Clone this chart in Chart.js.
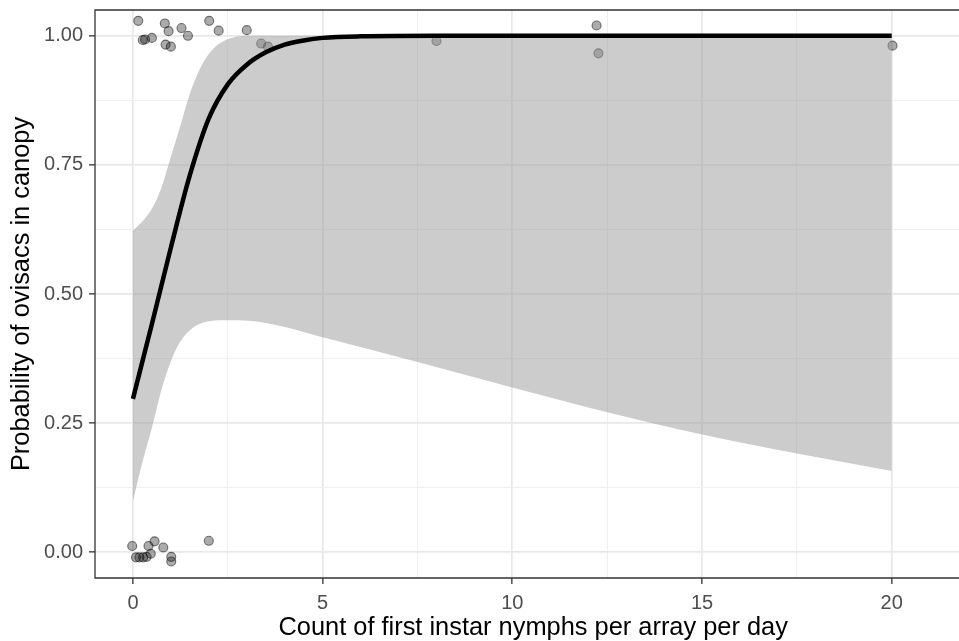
<!DOCTYPE html>
<html>
<head>
<meta charset="utf-8">
<script src="https://cdn.jsdelivr.net/npm/chart.js@4.4.1/dist/chart.umd.min.js"></script>
<style>
  html, body { margin: 0; padding: 0; background: #fff; overflow: hidden; }
  /* The reference panel runs past the right edge of the 959px frame, so the
     canvas is a little wider than the window and gets cropped the same way. */
  #wrap { position: relative; width: 977px; height: 641px; }
</style>
</head>
<body>
<div id="wrap"><canvas id="chart"></canvas></div>
<script>
// Fitted probability curve.
const fitX = [0, 0.5, 1.0, 1.5, 2.0, 2.5, 3.0, 3.5, 4.0, 4.5, 5, 6, 8, 20];
const fitY = [0.297, 0.442, 0.59, 0.73, 0.84, 0.906, 0.944, 0.968, 0.983, 0.991, 0.996, 0.999, 1.0, 1.0];

// Confidence band around the fit.
const bandX = [0, 0.15, 0.3, 0.5, 0.75, 1.0, 1.25, 1.5, 1.75, 2.0, 2.3, 2.6, 3.2, 4, 5, 7.5, 10, 12.5, 15, 17.5, 20];
const bandHi = [0.623, 0.633, 0.645, 0.665, 0.706, 0.766, 0.826, 0.888, 0.934, 0.965, 0.986, 0.996, 1.0, 1.0, 1.0, 1.0, 1.0, 1.0, 1.0, 1.0, 1.0];
const bandLo = [0.098, 0.145, 0.188, 0.241, 0.314, 0.37, 0.408, 0.43, 0.442, 0.447, 0.449, 0.449, 0.447, 0.436, 0.416, 0.3685, 0.319, 0.271, 0.228, 0.191, 0.157];

// Observations (jittered 0/1 outcomes).
const obsX = [0.14, 0.26, 0.32, 0.50, 0.84, 0.94, 0.86, 1.00, 1.28, 1.45, 2.01, 2.26, 3.00, 3.38, 3.56, 8.00, 12.22, 12.27, 20.02,
  -0.02, 0.08, 0.17, 0.27, 0.36, 0.41, 0.47, 0.57, 0.80, 1.01, 1.01, 2.00];
const obsY = [1.029, 0.992, 0.993, 0.996, 1.024, 1.009, 0.983, 0.979, 1.015, 1.000, 1.029, 1.010, 1.011, 0.985, 0.979, 0.990, 1.020, 0.966, 0.981,
  0.012, -0.010, -0.010, -0.010, -0.009, 0.012, -0.003, 0.021, 0.009, -0.009, -0.018, 0.022];

// Axis ticks: labelled (major) values and the full grid including minor lines.
const xTicks = [0, 5, 10, 15, 20];
const xGrid = [0, 2.5, 5, 7.5, 10, 12.5, 15, 17.5, 20];
const yTicks = [0, 0.25, 0.5, 0.75, 1];
const yLabels = ["0.00", "0.25", "0.50", "0.75", "1.00"];
const yGrid = [0, 0.125, 0.25, 0.375, 0.5, 0.625, 0.75, 0.875, 1];

const FONT = "'Liberation Sans', Arial, Helvetica, sans-serif";
Chart.defaults.font.family = FONT;

const pts = (xs, ys) => xs.map((x, i) => ({ x, y: ys[i] }));
const majorIndex = (list, v) => list.findIndex((t) => Math.abs(t - v) < 1e-9);

// theme_bw-ish grid: major lines heavier, minor lighter, tick marks only on majors.
function gridFor(major) {
  return {
    color: (c) => (majorIndex(major, c.tick.value) >= 0 ? "#e8e8e8" : "#efefef"),
    lineWidth: (c) => (majorIndex(major, c.tick.value) >= 0 ? 1.7 : 1),
    tickColor: (c) => (majorIndex(major, c.tick.value) >= 0 ? "#333333" : "rgba(0,0,0,0)"),
    tickWidth: 1.3,
    tickLength: 6,
  };
}

// Chart.js reserves room for half a label past each axis end; the panel here
// is pinned to fixed edges instead, so drop that padding.
const noEdgePadding = (s) => {
  s.paddingTop = 0; s.paddingBottom = 0; s.paddingLeft = 0; s.paddingRight = 0;
};

// Panel frame on top, left and bottom (the right side falls outside the window).
const panelFrame = {
  id: "panelFrame",
  afterDatasetsDraw(chart) {
    const { ctx, chartArea: a } = chart;
    ctx.save();
    ctx.strokeStyle = "#333333";
    ctx.lineWidth = 1.3;
    ctx.beginPath();
    ctx.moveTo(a.right, a.top);
    ctx.lineTo(a.left, a.top);
    ctx.lineTo(a.left, a.bottom);
    ctx.lineTo(a.right, a.bottom);
    ctx.stroke();
    ctx.restore();
  },
};

new Chart(document.getElementById("chart"), {
  type: "line",
  data: {
    datasets: [
      {
        label: "fit",
        data: pts(fitX, fitY),
        borderColor: "#000000",
        borderWidth: 4.5,
        pointRadius: 0,
        cubicInterpolationMode: "monotone",
        fill: false,
        order: 0,
      },
      {
        label: "upper",
        data: pts(bandX, bandHi),
        borderWidth: 0,
        borderColor: "rgba(0,0,0,0)",
        pointRadius: 0,
        cubicInterpolationMode: "monotone",
        backgroundColor: "rgba(153,153,153,0.5)",
        fill: "+1",
        order: 1,
      },
      {
        label: "lower",
        data: pts(bandX, bandLo),
        borderWidth: 0,
        borderColor: "rgba(0,0,0,0)",
        pointRadius: 0,
        cubicInterpolationMode: "monotone",
        fill: false,
        order: 1,
      },
      {
        type: "scatter",
        label: "obs",
        data: pts(obsX, obsY),
        pointRadius: 4.5,
        pointBackgroundColor: "rgba(0,0,0,0.33)",
        pointBorderColor: "rgba(0,0,0,0.5)",
        pointBorderWidth: 1.1,
        order: 2,
      },
    ],
  },
  options: {
    responsive: true,
    maintainAspectRatio: false,
    animation: false,
    layout: { padding: { top: 10, right: 0, bottom: 0, left: 0 } },
    plugins: { legend: { display: false }, tooltip: { enabled: false } },
    scales: {
      x: {
        type: "linear",
        min: -1,
        max: 22.1,
        afterBuildTicks: (s) => { s.ticks = xGrid.map((value) => ({ value })); },
        afterFit: (s) => { s.height = 63; noEdgePadding(s); },
        grid: gridFor(xTicks),
        border: { display: false },
        ticks: {
          color: "#4d4d4d",
          font: { size: 20 },
          padding: 7,
          autoSkip: false,
          maxRotation: 0,
          callback: (v) => (majorIndex(xTicks, v) >= 0 ? String(v) : ""),
        },
        title: {
          display: true,
          text: "Count of first instar nymphs per array per day",
          color: "#000000",
          font: { size: 25.4 },
          padding: { top: 0, bottom: -2 },
        },
      },
      y: {
        type: "linear",
        min: -0.05,
        max: 1.05,
        afterBuildTicks: (s) => { s.ticks = yGrid.map((value) => ({ value })); },
        afterFit: (s) => { s.width = 95; noEdgePadding(s); },
        grid: gridFor(yTicks),
        border: { display: false },
        ticks: {
          color: "#4d4d4d",
          font: { size: 20 },
          padding: 6,
          autoSkip: false,
          callback: (v) => {
            const i = majorIndex(yTicks, v);
            return i >= 0 ? yLabels[i] : "";
          },
        },
        title: {
          display: true,
          text: "Probability of ovisacs in canopy",
          color: "#000000",
          font: { size: 25.4 },
          padding: { top: 7, bottom: 0 },
        },
      },
    },
  },
  plugins: [panelFrame],
});
</script>
</body>
</html>
